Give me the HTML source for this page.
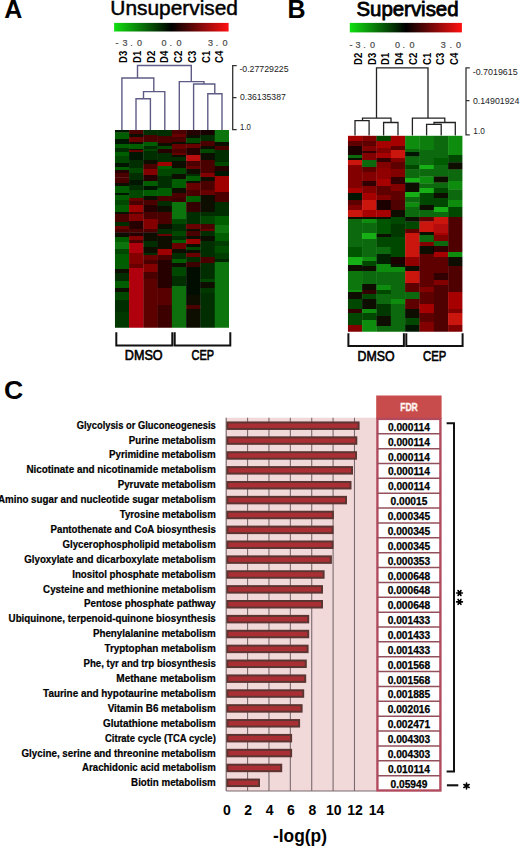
<!DOCTYPE html>
<html><head><meta charset="utf-8"><style>
html,body{margin:0;padding:0;background:#fff;}
svg{display:block;}
text{font-family:"Liberation Sans",sans-serif;fill:#000;}
.b{font-weight:bold;}
.m{font-family:"Liberation Mono",monospace;}
.mb{font-family:"Liberation Mono",monospace;font-weight:bold;}
</style></head><body>
<svg width="520" height="846" viewBox="0 0 520 846">
<rect width="520" height="846" fill="#ffffff"/>
<text x="4.3" y="18.4" class="b" font-size="25">A</text>
<text x="287.5" y="18.4" class="b" font-size="25">B</text>
<text x="4.0" y="399.3" class="b" font-size="26.6">C</text>
<text x="110.3" y="15.4" font-size="20" style="stroke:#000;stroke-width:0.45" textLength="127.7" lengthAdjust="spacingAndGlyphs">Unsupervised</text>
<text x="356.4" y="16" font-size="20" style="stroke:#000;stroke-width:0.8" textLength="102.2" lengthAdjust="spacingAndGlyphs">Supervised</text>
<defs><linearGradient id="cb" x1="0" x2="1" y1="0" y2="0"><stop offset="0" stop-color="#10e010"/><stop offset="0.5" stop-color="#000000"/><stop offset="1" stop-color="#ff1010"/></linearGradient></defs>
<rect x="114.1" y="22.9" width="114.5" height="8.6" fill="url(#cb)"/>
<rect x="349.8" y="22.9" width="112.1" height="9.5" fill="url(#cb)"/>
<text x="117.10" y="45.90" font-size="9" text-anchor="middle" style="fill:#4a4a4a;stroke:#4a4a4a;stroke-width:0.2">-</text>
<text x="125.00" y="45.90" font-size="9" text-anchor="middle" style="fill:#4a4a4a;stroke:#4a4a4a;stroke-width:0.2">3</text>
<text x="131.40" y="45.90" font-size="9" text-anchor="middle" style="fill:#4a4a4a;stroke:#4a4a4a;stroke-width:0.2">.</text>
<text x="139.40" y="45.90" font-size="9" text-anchor="middle" style="fill:#4a4a4a;stroke:#4a4a4a;stroke-width:0.2">0</text>
<text x="164.00" y="45.90" font-size="9" text-anchor="middle" style="fill:#4a4a4a;stroke:#4a4a4a;stroke-width:0.2">0</text>
<text x="170.75" y="45.90" font-size="9" text-anchor="middle" style="fill:#4a4a4a;stroke:#4a4a4a;stroke-width:0.2">.</text>
<text x="178.90" y="45.90" font-size="9" text-anchor="middle" style="fill:#4a4a4a;stroke:#4a4a4a;stroke-width:0.2">0</text>
<text x="210.60" y="45.90" font-size="9" text-anchor="middle" style="fill:#4a4a4a;stroke:#4a4a4a;stroke-width:0.2">3</text>
<text x="217.10" y="45.90" font-size="9" text-anchor="middle" style="fill:#4a4a4a;stroke:#4a4a4a;stroke-width:0.2">.</text>
<text x="225.10" y="45.90" font-size="9" text-anchor="middle" style="fill:#4a4a4a;stroke:#4a4a4a;stroke-width:0.2">0</text>
<text x="351.10" y="47.60" font-size="9" text-anchor="middle" style="fill:#4a4a4a;stroke:#4a4a4a;stroke-width:0.2">-</text>
<text x="358.00" y="47.60" font-size="9" text-anchor="middle" style="fill:#4a4a4a;stroke:#4a4a4a;stroke-width:0.2">3</text>
<text x="364.60" y="47.60" font-size="9" text-anchor="middle" style="fill:#4a4a4a;stroke:#4a4a4a;stroke-width:0.2">.</text>
<text x="372.60" y="47.60" font-size="9" text-anchor="middle" style="fill:#4a4a4a;stroke:#4a4a4a;stroke-width:0.2">0</text>
<text x="397.50" y="47.60" font-size="9" text-anchor="middle" style="fill:#4a4a4a;stroke:#4a4a4a;stroke-width:0.2">0</text>
<text x="403.80" y="47.60" font-size="9" text-anchor="middle" style="fill:#4a4a4a;stroke:#4a4a4a;stroke-width:0.2">.</text>
<text x="412.00" y="47.60" font-size="9" text-anchor="middle" style="fill:#4a4a4a;stroke:#4a4a4a;stroke-width:0.2">0</text>
<text x="443.30" y="47.60" font-size="9" text-anchor="middle" style="fill:#4a4a4a;stroke:#4a4a4a;stroke-width:0.2">3</text>
<text x="450.70" y="47.60" font-size="9" text-anchor="middle" style="fill:#4a4a4a;stroke:#4a4a4a;stroke-width:0.2">.</text>
<text x="458.50" y="47.60" font-size="9" text-anchor="middle" style="fill:#4a4a4a;stroke:#4a4a4a;stroke-width:0.2">0</text>
<text transform="translate(127.40 62.90) rotate(-90)" class="b" font-size="11" x="0" y="0" textLength="12.2" lengthAdjust="spacingAndGlyphs">D3</text>
<text transform="translate(141.09 62.90) rotate(-90)" class="b" font-size="11" x="0" y="0" textLength="12.2" lengthAdjust="spacingAndGlyphs">D1</text>
<text transform="translate(154.78 62.90) rotate(-90)" class="b" font-size="11" x="0" y="0" textLength="12.2" lengthAdjust="spacingAndGlyphs">D2</text>
<text transform="translate(168.47 62.90) rotate(-90)" class="b" font-size="11" x="0" y="0" textLength="12.2" lengthAdjust="spacingAndGlyphs">D4</text>
<text transform="translate(182.16 62.90) rotate(-90)" class="b" font-size="11" x="0" y="0" textLength="12.2" lengthAdjust="spacingAndGlyphs">C2</text>
<text transform="translate(195.85 62.90) rotate(-90)" class="b" font-size="11" x="0" y="0" textLength="12.2" lengthAdjust="spacingAndGlyphs">C3</text>
<text transform="translate(209.54 62.90) rotate(-90)" class="b" font-size="11" x="0" y="0" textLength="12.2" lengthAdjust="spacingAndGlyphs">C1</text>
<text transform="translate(223.23 62.90) rotate(-90)" class="b" font-size="11" x="0" y="0" textLength="12.2" lengthAdjust="spacingAndGlyphs">C4</text>
<text transform="translate(361.95 65.00) rotate(-90)" class="b" font-size="11" x="0" y="0" textLength="12.2" lengthAdjust="spacingAndGlyphs">D2</text>
<text transform="translate(375.67 65.00) rotate(-90)" class="b" font-size="11" x="0" y="0" textLength="12.2" lengthAdjust="spacingAndGlyphs">D3</text>
<text transform="translate(389.39 65.00) rotate(-90)" class="b" font-size="11" x="0" y="0" textLength="12.2" lengthAdjust="spacingAndGlyphs">D1</text>
<text transform="translate(403.11 65.00) rotate(-90)" class="b" font-size="11" x="0" y="0" textLength="12.2" lengthAdjust="spacingAndGlyphs">D4</text>
<text transform="translate(416.83 65.00) rotate(-90)" class="b" font-size="11" x="0" y="0" textLength="12.2" lengthAdjust="spacingAndGlyphs">C2</text>
<text transform="translate(430.55 65.00) rotate(-90)" class="b" font-size="11" x="0" y="0" textLength="12.2" lengthAdjust="spacingAndGlyphs">C1</text>
<text transform="translate(444.27 65.00) rotate(-90)" class="b" font-size="11" x="0" y="0" textLength="12.2" lengthAdjust="spacingAndGlyphs">C3</text>
<text transform="translate(457.99 65.00) rotate(-90)" class="b" font-size="11" x="0" y="0" textLength="12.2" lengthAdjust="spacingAndGlyphs">C4</text>
<path d="M137.5 78 V65.5 H191.3 V81.6 M121.9 130 V78 H153.8 V91.6 M143.5 98.8 V91.6 H164.8 V130 M136 130 V98.8 H150.4 V130 M179.3 130 V81.6 H204 V84 M193.6 130 V84 H214.8 V93.7 M207.8 130 V93.7 H222 V130" fill="none" stroke="#5e5c86" stroke-width="1.4"/>
<path d="M376.5 118.1 V67.9 H428 V118.1 M362.5 120.6 V118.1 H391 V122.5 M355 135.6 V120.6 H369.1 V135.6 M383.6 135.6 V122.5 H398 V135.6 M412.4 135.6 V118.1 H444.8 V122.5 M434 124.4 V122.5 H455.3 V135.6 M426.6 135.6 V124.4 H441.2 V135.6" fill="none" stroke="#222222" stroke-width="1.3"/>
<path d="M236.7 65.7 H232.7 V129.6 H236.7 M232.7 97.7 H236.5" fill="none" stroke="#333" stroke-width="1.3"/>
<path d="M469.8 67.8 H466 V134.8 H469.8 M466 100.6 H469.5" fill="none" stroke="#333" stroke-width="1.3"/>
<text x="239.4" y="72.2" font-size="8.6" style="fill:#222" textLength="49.2" lengthAdjust="spacingAndGlyphs">-0.27729225</text>
<text x="240.0" y="99.7" font-size="8.6" style="fill:#222" textLength="45.8" lengthAdjust="spacingAndGlyphs">0.36135387</text>
<text x="240.1" y="130.2" font-size="8.6" style="fill:#222" textLength="10.8" lengthAdjust="spacingAndGlyphs">1.0</text>
<text x="472.7" y="75.2" font-size="8.6" style="fill:#222" textLength="45" lengthAdjust="spacingAndGlyphs">-0.7019615</text>
<text x="472.9" y="103.6" font-size="8.6" style="fill:#222" textLength="46.5" lengthAdjust="spacingAndGlyphs">0.14901924</text>
<text x="473.3" y="134.4" font-size="8.6" style="fill:#222" textLength="11.5" lengthAdjust="spacingAndGlyphs">1.0</text>
<defs><filter id="hb" x="-2%" y="-2%" width="104%" height="104%"><feGaussianBlur stdDeviation="0.45"/></filter><clipPath id="ca"><rect x="114.8" y="130" width="114.2" height="197.7"/></clipPath><clipPath id="cbb"><rect x="347.8" y="135.6" width="114.7" height="196.1"/></clipPath></defs>
<g clip-path="url(#ca)"><g filter="url(#hb)"><rect x="114.80" y="130.00" width="14.58" height="2.80" fill="#001700"/>
<rect x="114.80" y="132.50" width="14.58" height="6.80" fill="#065d06"/>
<rect x="114.80" y="139.00" width="14.58" height="5.30" fill="#001700"/>
<rect x="114.80" y="144.00" width="14.58" height="4.30" fill="#065d06"/>
<rect x="114.80" y="148.00" width="14.58" height="4.30" fill="#002e00"/>
<rect x="114.80" y="152.00" width="14.58" height="4.30" fill="#065d06"/>
<rect x="114.80" y="156.00" width="14.58" height="4.30" fill="#024602"/>
<rect x="114.80" y="160.00" width="14.58" height="3.30" fill="#024602"/>
<rect x="114.80" y="163.00" width="14.58" height="4.30" fill="#001700"/>
<rect x="114.80" y="167.00" width="14.58" height="3.30" fill="#065d06"/>
<rect x="114.80" y="170.00" width="14.58" height="3.30" fill="#260003"/>
<rect x="114.80" y="173.00" width="14.58" height="4.80" fill="#4c0003"/>
<rect x="114.80" y="177.50" width="14.58" height="5.80" fill="#4c0003"/>
<rect x="114.80" y="183.00" width="14.58" height="3.30" fill="#080804"/>
<rect x="114.80" y="186.00" width="14.58" height="7.30" fill="#065d06"/>
<rect x="114.80" y="193.00" width="14.58" height="2.30" fill="#001700"/>
<rect x="114.80" y="195.00" width="14.58" height="5.30" fill="#065d06"/>
<rect x="114.80" y="200.00" width="14.58" height="5.30" fill="#024602"/>
<rect x="114.80" y="205.00" width="14.58" height="7.30" fill="#065d06"/>
<rect x="114.80" y="212.00" width="14.58" height="2.30" fill="#080804"/>
<rect x="114.80" y="214.00" width="14.58" height="8.30" fill="#4c0003"/>
<rect x="114.80" y="222.00" width="14.58" height="4.30" fill="#002e00"/>
<rect x="114.80" y="226.00" width="14.58" height="3.30" fill="#680003"/>
<rect x="114.80" y="229.00" width="14.58" height="3.80" fill="#4c0003"/>
<rect x="114.80" y="232.50" width="14.58" height="4.80" fill="#080804"/>
<rect x="114.80" y="237.00" width="14.58" height="5.30" fill="#065d06"/>
<rect x="114.80" y="242.00" width="14.58" height="7.30" fill="#0a750a"/>
<rect x="114.80" y="249.00" width="14.58" height="5.30" fill="#024602"/>
<rect x="114.80" y="254.00" width="14.58" height="5.30" fill="#065d06"/>
<rect x="114.80" y="259.00" width="14.58" height="10.30" fill="#065d06"/>
<rect x="114.80" y="269.00" width="14.58" height="4.30" fill="#080804"/>
<rect x="114.80" y="273.00" width="14.58" height="8.30" fill="#002e00"/>
<rect x="114.80" y="281.00" width="14.58" height="7.30" fill="#065d06"/>
<rect x="114.80" y="288.00" width="14.58" height="4.30" fill="#080804"/>
<rect x="114.80" y="292.00" width="14.58" height="8.30" fill="#024602"/>
<rect x="114.80" y="300.00" width="14.58" height="5.30" fill="#002e00"/>
<rect x="114.80" y="305.00" width="14.58" height="7.30" fill="#002e00"/>
<rect x="114.80" y="312.00" width="14.58" height="16.00" fill="#003800"/>
<rect x="129.07" y="130.00" width="14.58" height="4.30" fill="#4c0003"/>
<rect x="129.07" y="134.00" width="14.58" height="3.30" fill="#080804"/>
<rect x="129.07" y="137.00" width="14.58" height="5.30" fill="#680003"/>
<rect x="129.07" y="142.00" width="14.58" height="2.30" fill="#080804"/>
<rect x="129.07" y="144.00" width="14.58" height="5.30" fill="#065d06"/>
<rect x="129.07" y="149.00" width="14.58" height="1.30" fill="#080804"/>
<rect x="129.07" y="150.00" width="14.58" height="2.30" fill="#680003"/>
<rect x="129.07" y="152.00" width="14.58" height="8.30" fill="#001700"/>
<rect x="129.07" y="160.00" width="14.58" height="3.30" fill="#002e00"/>
<rect x="129.07" y="163.00" width="14.58" height="5.30" fill="#002e00"/>
<rect x="129.07" y="168.00" width="14.58" height="5.30" fill="#024602"/>
<rect x="129.07" y="173.00" width="14.58" height="7.30" fill="#002e00"/>
<rect x="129.07" y="180.00" width="14.58" height="5.30" fill="#001700"/>
<rect x="129.07" y="185.00" width="14.58" height="5.30" fill="#002e00"/>
<rect x="129.07" y="190.00" width="14.58" height="8.30" fill="#024602"/>
<rect x="129.07" y="198.00" width="14.58" height="3.30" fill="#680003"/>
<rect x="129.07" y="201.00" width="14.58" height="4.30" fill="#4c0003"/>
<rect x="129.07" y="205.00" width="14.58" height="7.30" fill="#9f0003"/>
<rect x="129.07" y="212.00" width="14.58" height="2.30" fill="#4c0003"/>
<rect x="129.07" y="214.00" width="14.58" height="7.30" fill="#840003"/>
<rect x="129.07" y="221.00" width="14.58" height="8.30" fill="#260003"/>
<rect x="129.07" y="229.00" width="14.58" height="3.80" fill="#4c0003"/>
<rect x="129.07" y="232.50" width="14.58" height="3.80" fill="#260003"/>
<rect x="129.07" y="236.00" width="14.58" height="4.30" fill="#840003"/>
<rect x="129.07" y="240.00" width="14.58" height="3.30" fill="#4c0003"/>
<rect x="129.07" y="243.00" width="14.58" height="10.30" fill="#b00607"/>
<rect x="129.07" y="253.00" width="14.58" height="4.30" fill="#840003"/>
<rect x="129.07" y="257.00" width="14.58" height="7.30" fill="#840003"/>
<rect x="129.07" y="264.00" width="14.58" height="4.30" fill="#680003"/>
<rect x="129.07" y="268.00" width="14.58" height="60.00" fill="#b00607"/>
<rect x="143.35" y="130.00" width="14.58" height="5.30" fill="#002e00"/>
<rect x="143.35" y="135.00" width="14.58" height="7.30" fill="#4c0003"/>
<rect x="143.35" y="142.00" width="14.58" height="4.30" fill="#065d06"/>
<rect x="143.35" y="146.00" width="14.58" height="3.30" fill="#002e00"/>
<rect x="143.35" y="149.00" width="14.58" height="2.30" fill="#024602"/>
<rect x="143.35" y="151.00" width="14.58" height="9.30" fill="#002e00"/>
<rect x="143.35" y="160.00" width="14.58" height="4.30" fill="#080804"/>
<rect x="143.35" y="164.00" width="14.58" height="5.30" fill="#4c0003"/>
<rect x="143.35" y="169.00" width="14.58" height="6.30" fill="#840003"/>
<rect x="143.35" y="175.00" width="14.58" height="6.30" fill="#260003"/>
<rect x="143.35" y="181.00" width="14.58" height="5.30" fill="#065d06"/>
<rect x="143.35" y="186.00" width="14.58" height="4.30" fill="#001700"/>
<rect x="143.35" y="190.00" width="14.58" height="6.30" fill="#065d06"/>
<rect x="143.35" y="196.00" width="14.58" height="4.30" fill="#080804"/>
<rect x="143.35" y="200.00" width="14.58" height="5.30" fill="#4c0003"/>
<rect x="143.35" y="205.00" width="14.58" height="7.30" fill="#260003"/>
<rect x="143.35" y="212.00" width="14.58" height="7.30" fill="#4c0003"/>
<rect x="143.35" y="219.00" width="14.58" height="10.30" fill="#840003"/>
<rect x="143.35" y="229.00" width="14.58" height="3.80" fill="#4c0003"/>
<rect x="143.35" y="232.50" width="14.58" height="8.80" fill="#080804"/>
<rect x="143.35" y="241.00" width="14.58" height="6.30" fill="#002e00"/>
<rect x="143.35" y="247.00" width="14.58" height="6.30" fill="#080804"/>
<rect x="143.35" y="253.00" width="14.58" height="2.30" fill="#002e00"/>
<rect x="143.35" y="255.00" width="14.58" height="5.30" fill="#680003"/>
<rect x="143.35" y="260.00" width="14.58" height="4.30" fill="#4c0003"/>
<rect x="143.35" y="264.00" width="14.58" height="8.30" fill="#840003"/>
<rect x="143.35" y="272.00" width="14.58" height="7.30" fill="#4c0003"/>
<rect x="143.35" y="279.00" width="14.58" height="49.00" fill="#5d0003"/>
<rect x="157.62" y="130.00" width="14.58" height="6.30" fill="#002e00"/>
<rect x="157.62" y="136.00" width="14.58" height="7.30" fill="#4c0003"/>
<rect x="157.62" y="143.00" width="14.58" height="3.30" fill="#080804"/>
<rect x="157.62" y="146.00" width="14.58" height="3.30" fill="#024602"/>
<rect x="157.62" y="149.00" width="14.58" height="4.30" fill="#260003"/>
<rect x="157.62" y="153.00" width="14.58" height="9.30" fill="#002e00"/>
<rect x="157.62" y="162.00" width="14.58" height="4.30" fill="#9f0003"/>
<rect x="157.62" y="166.00" width="14.58" height="3.30" fill="#065d06"/>
<rect x="157.62" y="169.00" width="14.58" height="7.30" fill="#024602"/>
<rect x="157.62" y="176.00" width="14.58" height="7.30" fill="#002e00"/>
<rect x="157.62" y="183.00" width="14.58" height="5.30" fill="#002e00"/>
<rect x="157.62" y="188.00" width="14.58" height="8.30" fill="#065d06"/>
<rect x="157.62" y="196.00" width="14.58" height="5.30" fill="#4c0003"/>
<rect x="157.62" y="201.00" width="14.58" height="5.30" fill="#002e00"/>
<rect x="157.62" y="206.00" width="14.58" height="6.30" fill="#080804"/>
<rect x="157.62" y="212.00" width="14.58" height="7.30" fill="#4c0003"/>
<rect x="157.62" y="219.00" width="14.58" height="5.30" fill="#4c0003"/>
<rect x="157.62" y="224.00" width="14.58" height="5.30" fill="#080804"/>
<rect x="157.62" y="229.00" width="14.58" height="5.30" fill="#002e00"/>
<rect x="157.62" y="234.00" width="14.58" height="2.30" fill="#680003"/>
<rect x="157.62" y="236.00" width="14.58" height="13.30" fill="#080804"/>
<rect x="157.62" y="249.00" width="14.58" height="6.30" fill="#9f0003"/>
<rect x="157.62" y="255.00" width="14.58" height="5.30" fill="#4c0003"/>
<rect x="157.62" y="260.00" width="14.58" height="28.30" fill="#260003"/>
<rect x="157.62" y="288.00" width="14.58" height="17.30" fill="#580003"/>
<rect x="157.62" y="305.00" width="14.58" height="23.00" fill="#3c0003"/>
<rect x="171.90" y="130.00" width="14.58" height="4.30" fill="#4c0003"/>
<rect x="171.90" y="134.00" width="14.58" height="3.30" fill="#680003"/>
<rect x="171.90" y="137.00" width="14.58" height="5.30" fill="#4c0003"/>
<rect x="171.90" y="142.00" width="14.58" height="2.30" fill="#080804"/>
<rect x="171.90" y="144.00" width="14.58" height="5.30" fill="#680003"/>
<rect x="171.90" y="149.00" width="14.58" height="4.30" fill="#4c0003"/>
<rect x="171.90" y="153.00" width="14.58" height="2.30" fill="#680003"/>
<rect x="171.90" y="155.00" width="14.58" height="2.30" fill="#080804"/>
<rect x="171.90" y="157.00" width="14.58" height="4.30" fill="#002e00"/>
<rect x="171.90" y="161.00" width="14.58" height="7.30" fill="#080804"/>
<rect x="171.90" y="168.00" width="14.58" height="6.30" fill="#024602"/>
<rect x="171.90" y="174.00" width="14.58" height="5.30" fill="#080804"/>
<rect x="171.90" y="179.00" width="14.58" height="9.30" fill="#065d06"/>
<rect x="171.90" y="188.00" width="14.58" height="5.30" fill="#080804"/>
<rect x="171.90" y="193.00" width="14.58" height="5.30" fill="#4c0003"/>
<rect x="171.90" y="198.00" width="14.58" height="4.30" fill="#3c0003"/>
<rect x="171.90" y="202.00" width="14.58" height="17.30" fill="#0a750a"/>
<rect x="171.90" y="219.00" width="14.58" height="5.30" fill="#024602"/>
<rect x="171.90" y="224.00" width="14.58" height="7.30" fill="#002e00"/>
<rect x="171.90" y="231.00" width="14.58" height="5.30" fill="#024602"/>
<rect x="171.90" y="236.00" width="14.58" height="4.30" fill="#002e00"/>
<rect x="171.90" y="240.00" width="14.58" height="3.30" fill="#065d06"/>
<rect x="171.90" y="243.00" width="14.58" height="6.30" fill="#680003"/>
<rect x="171.90" y="249.00" width="14.58" height="4.30" fill="#080804"/>
<rect x="171.90" y="253.00" width="14.58" height="6.30" fill="#002e00"/>
<rect x="171.90" y="259.00" width="14.58" height="4.30" fill="#065d06"/>
<rect x="171.90" y="263.00" width="14.58" height="4.30" fill="#080804"/>
<rect x="171.90" y="267.00" width="14.58" height="9.30" fill="#024602"/>
<rect x="171.90" y="276.00" width="14.58" height="10.30" fill="#002e00"/>
<rect x="171.90" y="286.00" width="14.58" height="42.00" fill="#097009"/>
<rect x="186.18" y="130.00" width="14.58" height="5.30" fill="#260003"/>
<rect x="186.18" y="135.00" width="14.58" height="3.30" fill="#080804"/>
<rect x="186.18" y="138.00" width="14.58" height="5.30" fill="#024602"/>
<rect x="186.18" y="143.00" width="14.58" height="1.30" fill="#080804"/>
<rect x="186.18" y="144.00" width="14.58" height="4.30" fill="#680003"/>
<rect x="186.18" y="148.00" width="14.58" height="7.30" fill="#260003"/>
<rect x="186.18" y="155.00" width="14.58" height="6.30" fill="#bb0b0b"/>
<rect x="186.18" y="161.00" width="14.58" height="5.30" fill="#4c0003"/>
<rect x="186.18" y="166.00" width="14.58" height="3.30" fill="#680003"/>
<rect x="186.18" y="169.00" width="14.58" height="5.30" fill="#080804"/>
<rect x="186.18" y="174.00" width="14.58" height="2.30" fill="#002e00"/>
<rect x="186.18" y="176.00" width="14.58" height="5.30" fill="#065d06"/>
<rect x="186.18" y="181.00" width="14.58" height="2.30" fill="#080804"/>
<rect x="186.18" y="183.00" width="14.58" height="7.30" fill="#680003"/>
<rect x="186.18" y="190.00" width="14.58" height="6.30" fill="#4c0003"/>
<rect x="186.18" y="196.00" width="14.58" height="6.30" fill="#065d06"/>
<rect x="186.18" y="202.00" width="14.58" height="10.30" fill="#350003"/>
<rect x="186.18" y="212.00" width="14.58" height="12.30" fill="#002e00"/>
<rect x="186.18" y="224.00" width="14.58" height="5.30" fill="#680003"/>
<rect x="186.18" y="229.00" width="14.58" height="2.30" fill="#080804"/>
<rect x="186.18" y="231.00" width="14.58" height="5.30" fill="#4c0003"/>
<rect x="186.18" y="236.00" width="14.58" height="3.30" fill="#080804"/>
<rect x="186.18" y="239.00" width="14.58" height="5.30" fill="#9f0003"/>
<rect x="186.18" y="244.00" width="14.58" height="3.30" fill="#080804"/>
<rect x="186.18" y="247.00" width="14.58" height="3.30" fill="#024602"/>
<rect x="186.18" y="250.00" width="14.58" height="3.30" fill="#080804"/>
<rect x="186.18" y="253.00" width="14.58" height="4.30" fill="#680003"/>
<rect x="186.18" y="257.00" width="14.58" height="5.30" fill="#002e00"/>
<rect x="186.18" y="262.00" width="14.58" height="5.30" fill="#3c0003"/>
<rect x="186.18" y="267.00" width="14.58" height="28.30" fill="#000900"/>
<rect x="186.18" y="295.00" width="14.58" height="10.30" fill="#080804"/>
<rect x="186.18" y="305.00" width="14.58" height="4.30" fill="#4c0003"/>
<rect x="186.18" y="309.00" width="14.58" height="19.00" fill="#080804"/>
<rect x="200.45" y="130.00" width="14.58" height="5.30" fill="#160003"/>
<rect x="200.45" y="135.00" width="14.58" height="6.30" fill="#002e00"/>
<rect x="200.45" y="141.00" width="14.58" height="5.30" fill="#4c0003"/>
<rect x="200.45" y="146.00" width="14.58" height="3.30" fill="#080804"/>
<rect x="200.45" y="149.00" width="14.58" height="4.30" fill="#024602"/>
<rect x="200.45" y="153.00" width="14.58" height="7.30" fill="#080804"/>
<rect x="200.45" y="160.00" width="14.58" height="13.30" fill="#4c0003"/>
<rect x="200.45" y="173.00" width="14.58" height="4.30" fill="#840003"/>
<rect x="200.45" y="177.00" width="14.58" height="4.30" fill="#080804"/>
<rect x="200.45" y="181.00" width="14.58" height="9.30" fill="#4c0003"/>
<rect x="200.45" y="190.00" width="14.58" height="5.30" fill="#680003"/>
<rect x="200.45" y="195.00" width="14.58" height="17.30" fill="#080804"/>
<rect x="200.45" y="212.00" width="14.58" height="4.30" fill="#002e00"/>
<rect x="200.45" y="216.00" width="14.58" height="8.30" fill="#024602"/>
<rect x="200.45" y="224.00" width="14.58" height="5.30" fill="#4c0003"/>
<rect x="200.45" y="229.00" width="14.58" height="2.30" fill="#680003"/>
<rect x="200.45" y="231.00" width="14.58" height="5.30" fill="#002e00"/>
<rect x="200.45" y="236.00" width="14.58" height="5.30" fill="#080804"/>
<rect x="200.45" y="241.00" width="14.58" height="16.30" fill="#002e00"/>
<rect x="200.45" y="257.00" width="14.58" height="6.30" fill="#4c0003"/>
<rect x="200.45" y="263.00" width="14.58" height="16.30" fill="#002e00"/>
<rect x="200.45" y="279.00" width="14.58" height="3.30" fill="#024602"/>
<rect x="200.45" y="282.00" width="14.58" height="6.30" fill="#080804"/>
<rect x="200.45" y="288.00" width="14.58" height="5.30" fill="#003800"/>
<rect x="200.45" y="293.00" width="14.58" height="35.00" fill="#002e00"/>
<rect x="214.72" y="130.00" width="14.58" height="12.30" fill="#0a750a"/>
<rect x="214.72" y="142.00" width="14.58" height="4.30" fill="#080804"/>
<rect x="214.72" y="146.00" width="14.58" height="4.30" fill="#4c0003"/>
<rect x="214.72" y="150.00" width="14.58" height="12.30" fill="#002e00"/>
<rect x="214.72" y="162.00" width="14.58" height="4.30" fill="#024602"/>
<rect x="214.72" y="166.00" width="14.58" height="5.30" fill="#260003"/>
<rect x="214.72" y="171.00" width="14.58" height="5.30" fill="#001700"/>
<rect x="214.72" y="176.00" width="14.58" height="16.30" fill="#9f0003"/>
<rect x="214.72" y="192.00" width="14.58" height="10.30" fill="#4c0003"/>
<rect x="214.72" y="202.00" width="14.58" height="14.30" fill="#002e00"/>
<rect x="214.72" y="216.00" width="14.58" height="9.30" fill="#065d06"/>
<rect x="214.72" y="225.00" width="14.58" height="8.30" fill="#0a750a"/>
<rect x="214.72" y="233.00" width="14.58" height="8.30" fill="#065d06"/>
<rect x="214.72" y="241.00" width="14.58" height="5.30" fill="#013c01"/>
<rect x="214.72" y="246.00" width="14.58" height="7.30" fill="#044f04"/>
<rect x="214.72" y="253.00" width="14.58" height="6.30" fill="#013c01"/>
<rect x="214.72" y="259.00" width="14.58" height="3.30" fill="#002500"/>
<rect x="214.72" y="262.00" width="14.58" height="66.00" fill="#0a750a"/></g></g>
<g clip-path="url(#cbb)"><g filter="url(#hb)"><rect x="347.80" y="135.60" width="14.64" height="5.70" fill="#a70204"/>
<rect x="347.80" y="141.00" width="14.64" height="5.30" fill="#5e0003"/>
<rect x="347.80" y="146.00" width="14.64" height="9.30" fill="#1e0003"/>
<rect x="347.80" y="155.00" width="14.64" height="3.30" fill="#086908"/>
<rect x="347.80" y="158.00" width="14.64" height="2.30" fill="#080804"/>
<rect x="347.80" y="160.00" width="14.64" height="5.30" fill="#cb1211"/>
<rect x="347.80" y="165.00" width="14.64" height="4.30" fill="#820003"/>
<rect x="347.80" y="169.00" width="14.64" height="19.30" fill="#820003"/>
<rect x="347.80" y="188.00" width="14.64" height="5.30" fill="#a70204"/>
<rect x="347.80" y="193.00" width="14.64" height="7.30" fill="#001500"/>
<rect x="347.80" y="200.00" width="14.64" height="5.30" fill="#5e0003"/>
<rect x="347.80" y="205.00" width="14.64" height="5.30" fill="#820003"/>
<rect x="347.80" y="210.00" width="14.64" height="7.30" fill="#cb1211"/>
<rect x="347.80" y="217.00" width="14.64" height="2.30" fill="#080804"/>
<rect x="347.80" y="219.00" width="14.64" height="19.30" fill="#086908"/>
<rect x="347.80" y="238.00" width="14.64" height="9.30" fill="#086908"/>
<rect x="347.80" y="247.00" width="14.64" height="10.30" fill="#045404"/>
<rect x="347.80" y="257.00" width="14.64" height="8.30" fill="#13af13"/>
<rect x="347.80" y="265.00" width="14.64" height="6.30" fill="#080804"/>
<rect x="347.80" y="271.00" width="14.64" height="19.30" fill="#0a770a"/>
<rect x="347.80" y="290.00" width="14.64" height="2.30" fill="#0d8c0d"/>
<rect x="347.80" y="292.00" width="14.64" height="7.30" fill="#080804"/>
<rect x="347.80" y="299.00" width="14.64" height="10.30" fill="#024602"/>
<rect x="347.80" y="309.00" width="14.64" height="4.30" fill="#320003"/>
<rect x="347.80" y="313.00" width="14.64" height="12.30" fill="#024602"/>
<rect x="347.80" y="325.00" width="14.64" height="7.00" fill="#820003"/>
<rect x="362.14" y="135.60" width="14.64" height="5.70" fill="#820003"/>
<rect x="362.14" y="141.00" width="14.64" height="5.30" fill="#5e0003"/>
<rect x="362.14" y="146.00" width="14.64" height="5.30" fill="#820003"/>
<rect x="362.14" y="151.00" width="14.64" height="2.30" fill="#320003"/>
<rect x="362.14" y="153.00" width="14.64" height="7.30" fill="#820003"/>
<rect x="362.14" y="160.00" width="14.64" height="7.30" fill="#086908"/>
<rect x="362.14" y="167.00" width="14.64" height="5.30" fill="#5e0003"/>
<rect x="362.14" y="172.00" width="14.64" height="9.30" fill="#820003"/>
<rect x="362.14" y="181.00" width="14.64" height="5.30" fill="#320003"/>
<rect x="362.14" y="186.00" width="14.64" height="7.30" fill="#820003"/>
<rect x="362.14" y="193.00" width="14.64" height="7.30" fill="#a70204"/>
<rect x="362.14" y="200.00" width="14.64" height="10.30" fill="#cb1211"/>
<rect x="362.14" y="210.00" width="14.64" height="7.30" fill="#a70204"/>
<rect x="362.14" y="217.00" width="14.64" height="2.30" fill="#080804"/>
<rect x="362.14" y="219.00" width="14.64" height="4.30" fill="#0d8c0d"/>
<rect x="362.14" y="223.00" width="14.64" height="10.30" fill="#086908"/>
<rect x="362.14" y="233.00" width="14.64" height="6.30" fill="#13af13"/>
<rect x="362.14" y="239.00" width="14.64" height="18.30" fill="#086908"/>
<rect x="362.14" y="257.00" width="14.64" height="4.30" fill="#0d8c0d"/>
<rect x="362.14" y="261.00" width="14.64" height="5.30" fill="#024602"/>
<rect x="362.14" y="266.00" width="14.64" height="5.30" fill="#080804"/>
<rect x="362.14" y="271.00" width="14.64" height="13.30" fill="#086908"/>
<rect x="362.14" y="284.00" width="14.64" height="6.30" fill="#080804"/>
<rect x="362.14" y="290.00" width="14.64" height="4.30" fill="#320003"/>
<rect x="362.14" y="294.00" width="14.64" height="5.30" fill="#024602"/>
<rect x="362.14" y="299.00" width="14.64" height="10.30" fill="#080804"/>
<rect x="362.14" y="309.00" width="14.64" height="4.30" fill="#0d8c0d"/>
<rect x="362.14" y="313.00" width="14.64" height="7.30" fill="#024602"/>
<rect x="362.14" y="320.00" width="14.64" height="12.00" fill="#0d8c0d"/>
<rect x="376.48" y="135.60" width="14.64" height="5.70" fill="#024602"/>
<rect x="376.48" y="141.00" width="14.64" height="7.30" fill="#a70204"/>
<rect x="376.48" y="148.00" width="14.64" height="5.30" fill="#820003"/>
<rect x="376.48" y="153.00" width="14.64" height="5.30" fill="#a70204"/>
<rect x="376.48" y="158.00" width="14.64" height="4.30" fill="#320003"/>
<rect x="376.48" y="162.00" width="14.64" height="6.30" fill="#820003"/>
<rect x="376.48" y="168.00" width="14.64" height="11.30" fill="#910003"/>
<rect x="376.48" y="179.00" width="14.64" height="7.30" fill="#a70204"/>
<rect x="376.48" y="186.00" width="14.64" height="9.30" fill="#5e0003"/>
<rect x="376.48" y="195.00" width="14.64" height="5.30" fill="#820003"/>
<rect x="376.48" y="200.00" width="14.64" height="10.30" fill="#1e0003"/>
<rect x="376.48" y="210.00" width="14.64" height="7.30" fill="#a70204"/>
<rect x="376.48" y="217.00" width="14.64" height="2.30" fill="#080804"/>
<rect x="376.48" y="219.00" width="14.64" height="15.30" fill="#045404"/>
<rect x="376.48" y="234.00" width="14.64" height="3.30" fill="#080804"/>
<rect x="376.48" y="237.00" width="14.64" height="10.30" fill="#024602"/>
<rect x="376.48" y="247.00" width="14.64" height="7.30" fill="#086908"/>
<rect x="376.48" y="254.00" width="14.64" height="10.30" fill="#002300"/>
<rect x="376.48" y="264.00" width="14.64" height="8.30" fill="#0d8c0d"/>
<rect x="376.48" y="272.00" width="14.64" height="13.30" fill="#086908"/>
<rect x="376.48" y="285.00" width="14.64" height="5.30" fill="#0d8c0d"/>
<rect x="376.48" y="290.00" width="14.64" height="4.30" fill="#024602"/>
<rect x="376.48" y="294.00" width="14.64" height="10.30" fill="#086908"/>
<rect x="376.48" y="304.00" width="14.64" height="12.30" fill="#003800"/>
<rect x="376.48" y="316.00" width="14.64" height="10.30" fill="#080804"/>
<rect x="376.48" y="326.00" width="14.64" height="6.00" fill="#086908"/>
<rect x="390.81" y="135.60" width="14.64" height="10.70" fill="#a70204"/>
<rect x="390.81" y="146.00" width="14.64" height="4.30" fill="#5e0003"/>
<rect x="390.81" y="150.00" width="14.64" height="8.30" fill="#cb1211"/>
<rect x="390.81" y="158.00" width="14.64" height="4.30" fill="#820003"/>
<rect x="390.81" y="162.00" width="14.64" height="7.30" fill="#5e0003"/>
<rect x="390.81" y="169.00" width="14.64" height="8.30" fill="#820003"/>
<rect x="390.81" y="177.00" width="14.64" height="7.30" fill="#320003"/>
<rect x="390.81" y="184.00" width="14.64" height="7.30" fill="#820003"/>
<rect x="390.81" y="191.00" width="14.64" height="9.30" fill="#5e0003"/>
<rect x="390.81" y="200.00" width="14.64" height="10.30" fill="#500003"/>
<rect x="390.81" y="210.00" width="14.64" height="7.30" fill="#080804"/>
<rect x="390.81" y="217.00" width="14.64" height="7.30" fill="#024602"/>
<rect x="390.81" y="224.00" width="14.64" height="13.30" fill="#003800"/>
<rect x="390.81" y="237.00" width="14.64" height="20.30" fill="#024602"/>
<rect x="390.81" y="257.00" width="14.64" height="7.30" fill="#1e0003"/>
<rect x="390.81" y="264.00" width="14.64" height="3.30" fill="#080804"/>
<rect x="390.81" y="267.00" width="14.64" height="5.30" fill="#0d8c0d"/>
<rect x="390.81" y="272.00" width="14.64" height="27.30" fill="#086908"/>
<rect x="390.81" y="299.00" width="14.64" height="5.30" fill="#0d8c0d"/>
<rect x="390.81" y="304.00" width="14.64" height="28.00" fill="#086908"/>
<rect x="405.15" y="135.60" width="14.64" height="13.70" fill="#0d8c0d"/>
<rect x="405.15" y="149.00" width="14.64" height="3.30" fill="#086908"/>
<rect x="405.15" y="152.00" width="14.64" height="4.80" fill="#001500"/>
<rect x="405.15" y="156.50" width="14.64" height="8.80" fill="#086908"/>
<rect x="405.15" y="165.00" width="14.64" height="4.80" fill="#024602"/>
<rect x="405.15" y="169.50" width="14.64" height="8.80" fill="#086908"/>
<rect x="405.15" y="178.00" width="14.64" height="4.80" fill="#13af13"/>
<rect x="405.15" y="182.50" width="14.64" height="9.80" fill="#080804"/>
<rect x="405.15" y="192.00" width="14.64" height="5.30" fill="#13af13"/>
<rect x="405.15" y="197.00" width="14.64" height="5.80" fill="#086908"/>
<rect x="405.15" y="202.50" width="14.64" height="4.80" fill="#0d8c0d"/>
<rect x="405.15" y="207.00" width="14.64" height="10.30" fill="#086908"/>
<rect x="405.15" y="217.00" width="14.64" height="4.80" fill="#080804"/>
<rect x="405.15" y="221.50" width="14.64" height="7.80" fill="#024602"/>
<rect x="405.15" y="229.00" width="14.64" height="4.30" fill="#5e0003"/>
<rect x="405.15" y="233.00" width="14.64" height="24.30" fill="#cb1211"/>
<rect x="405.15" y="257.00" width="14.64" height="9.30" fill="#910003"/>
<rect x="405.15" y="266.00" width="14.64" height="5.30" fill="#080804"/>
<rect x="405.15" y="271.00" width="14.64" height="12.30" fill="#cb1211"/>
<rect x="405.15" y="283.00" width="14.64" height="9.30" fill="#5e0003"/>
<rect x="405.15" y="292.00" width="14.64" height="7.30" fill="#086908"/>
<rect x="405.15" y="299.00" width="14.64" height="10.30" fill="#5e0003"/>
<rect x="405.15" y="309.00" width="14.64" height="9.30" fill="#080804"/>
<rect x="405.15" y="318.00" width="14.64" height="7.30" fill="#024602"/>
<rect x="405.15" y="325.00" width="14.64" height="7.00" fill="#001500"/>
<rect x="419.49" y="135.60" width="14.64" height="14.70" fill="#0b7e0b"/>
<rect x="419.49" y="150.00" width="14.64" height="5.30" fill="#086908"/>
<rect x="419.49" y="155.00" width="14.64" height="10.30" fill="#086908"/>
<rect x="419.49" y="165.00" width="14.64" height="4.30" fill="#13af13"/>
<rect x="419.49" y="169.00" width="14.64" height="7.80" fill="#086908"/>
<rect x="419.49" y="176.50" width="14.64" height="7.30" fill="#0d8c0d"/>
<rect x="419.49" y="183.50" width="14.64" height="4.80" fill="#086908"/>
<rect x="419.49" y="188.00" width="14.64" height="5.30" fill="#13af13"/>
<rect x="419.49" y="193.00" width="14.64" height="12.30" fill="#024602"/>
<rect x="419.49" y="205.00" width="14.64" height="5.30" fill="#080804"/>
<rect x="419.49" y="210.00" width="14.64" height="7.30" fill="#086908"/>
<rect x="419.49" y="217.00" width="14.64" height="4.80" fill="#5e0003"/>
<rect x="419.49" y="221.50" width="14.64" height="10.80" fill="#cb1211"/>
<rect x="419.49" y="232.00" width="14.64" height="3.30" fill="#080804"/>
<rect x="419.49" y="235.00" width="14.64" height="7.30" fill="#086908"/>
<rect x="419.49" y="242.00" width="14.64" height="4.30" fill="#820003"/>
<rect x="419.49" y="246.00" width="14.64" height="8.30" fill="#080804"/>
<rect x="419.49" y="254.00" width="14.64" height="33.30" fill="#5e0003"/>
<rect x="419.49" y="287.00" width="14.64" height="5.30" fill="#820003"/>
<rect x="419.49" y="292.00" width="14.64" height="12.30" fill="#5e0003"/>
<rect x="419.49" y="304.00" width="14.64" height="9.30" fill="#a70204"/>
<rect x="419.49" y="313.00" width="14.64" height="9.30" fill="#5e0003"/>
<rect x="419.49" y="322.00" width="14.64" height="10.00" fill="#820003"/>
<rect x="433.83" y="135.60" width="14.64" height="13.70" fill="#086908"/>
<rect x="433.83" y="149.00" width="14.64" height="9.30" fill="#086908"/>
<rect x="433.83" y="158.00" width="14.64" height="7.30" fill="#065b06"/>
<rect x="433.83" y="165.00" width="14.64" height="11.80" fill="#086908"/>
<rect x="433.83" y="176.50" width="14.64" height="6.30" fill="#080804"/>
<rect x="433.83" y="182.50" width="14.64" height="5.80" fill="#086908"/>
<rect x="433.83" y="188.00" width="14.64" height="5.30" fill="#024602"/>
<rect x="433.83" y="193.00" width="14.64" height="5.30" fill="#080804"/>
<rect x="433.83" y="198.00" width="14.64" height="9.30" fill="#024602"/>
<rect x="433.83" y="207.00" width="14.64" height="5.30" fill="#13af13"/>
<rect x="433.83" y="212.00" width="14.64" height="5.30" fill="#086908"/>
<rect x="433.83" y="217.00" width="14.64" height="7.30" fill="#cb1211"/>
<rect x="433.83" y="224.00" width="14.64" height="9.30" fill="#b50809"/>
<rect x="433.83" y="233.00" width="14.64" height="2.30" fill="#a70204"/>
<rect x="433.83" y="235.00" width="14.64" height="6.30" fill="#820003"/>
<rect x="433.83" y="241.00" width="14.64" height="5.30" fill="#086908"/>
<rect x="433.83" y="246.00" width="14.64" height="6.30" fill="#320003"/>
<rect x="433.83" y="252.00" width="14.64" height="5.30" fill="#a70204"/>
<rect x="433.83" y="257.00" width="14.64" height="16.30" fill="#5e0003"/>
<rect x="433.83" y="273.00" width="14.64" height="7.30" fill="#320003"/>
<rect x="433.83" y="280.00" width="14.64" height="5.30" fill="#820003"/>
<rect x="433.83" y="285.00" width="14.64" height="47.00" fill="#500003"/>
<rect x="448.16" y="135.60" width="14.64" height="19.70" fill="#0d8c0d"/>
<rect x="448.16" y="155.00" width="14.64" height="7.80" fill="#024602"/>
<rect x="448.16" y="162.50" width="14.64" height="7.30" fill="#080804"/>
<rect x="448.16" y="169.50" width="14.64" height="11.80" fill="#086908"/>
<rect x="448.16" y="181.00" width="14.64" height="8.80" fill="#0d8c0d"/>
<rect x="448.16" y="189.50" width="14.64" height="10.80" fill="#086908"/>
<rect x="448.16" y="200.00" width="14.64" height="7.30" fill="#0d8c0d"/>
<rect x="448.16" y="207.00" width="14.64" height="10.30" fill="#024602"/>
<rect x="448.16" y="217.00" width="14.64" height="17.30" fill="#500003"/>
<rect x="448.16" y="234.00" width="14.64" height="18.30" fill="#500003"/>
<rect x="448.16" y="252.00" width="14.64" height="5.30" fill="#0d8c0d"/>
<rect x="448.16" y="257.00" width="14.64" height="9.30" fill="#080804"/>
<rect x="448.16" y="266.00" width="14.64" height="26.30" fill="#500003"/>
<rect x="448.16" y="292.00" width="14.64" height="17.30" fill="#a70204"/>
<rect x="448.16" y="309.00" width="14.64" height="4.30" fill="#820003"/>
<rect x="448.16" y="313.00" width="14.64" height="12.30" fill="#cb1211"/>
<rect x="448.16" y="325.00" width="14.64" height="7.00" fill="#820003"/></g></g>
<path d="M116.3 332.3 V345.5 H172.3 V332.3 M174.7 332.3 V345.5 H230.3 V332.3" fill="none" stroke="#111" stroke-width="2"/>
<path d="M348.4 333.3 V346.1 H403.9 V333.3 M406.3 333.3 V346.1 H462.6 V333.3" fill="none" stroke="#111" stroke-width="2"/>
<text x="124.8" y="360.1" font-size="13.8" style="stroke:#000;stroke-width:0.6" textLength="37.8" lengthAdjust="spacingAndGlyphs">DMSO</text>
<text x="191.6" y="360.1" font-size="13.8" style="stroke:#000;stroke-width:0.6" textLength="22.5" lengthAdjust="spacingAndGlyphs">CEP</text>
<text x="357.5" y="361" font-size="13.8" style="stroke:#000;stroke-width:0.6" textLength="37" lengthAdjust="spacingAndGlyphs">DMSO</text>
<text x="423" y="361" font-size="13.8" style="stroke:#000;stroke-width:0.6" textLength="23.2" lengthAdjust="spacingAndGlyphs">CEP</text>
<rect x="226.2" y="417.7" width="150.3" height="373.3" fill="#f1d9da"/>
<line x1="247.58" y1="417.7" x2="247.58" y2="791.0" stroke="#7a6a6e" stroke-width="1.1"/>
<line x1="268.96" y1="417.7" x2="268.96" y2="791.0" stroke="#7a6a6e" stroke-width="1.1"/>
<line x1="290.34" y1="417.7" x2="290.34" y2="791.0" stroke="#7a6a6e" stroke-width="1.1"/>
<line x1="311.72" y1="417.7" x2="311.72" y2="791.0" stroke="#7a6a6e" stroke-width="1.1"/>
<line x1="333.10" y1="417.7" x2="333.10" y2="791.0" stroke="#7a6a6e" stroke-width="1.1"/>
<line x1="354.48" y1="417.7" x2="354.48" y2="791.0" stroke="#7a6a6e" stroke-width="1.1"/>
<line x1="226.20" y1="417.7" x2="226.20" y2="791.0" stroke="#7a6a6e" stroke-width="1.2"/>
<line x1="226.20" y1="791.0" x2="376.50" y2="791.0" stroke="#7a6a6e" stroke-width="1.2"/>
<rect x="227.40" y="422.45" width="131.20" height="6.5" fill="#a92f34" stroke="#5c3532" stroke-width="2"/>
<text x="76.7" y="428.60" class="b" font-size="10.2" style="stroke:#000;stroke-width:0.2" textLength="139.1" lengthAdjust="spacingAndGlyphs">Glycolysis or Gluconeogenesis</text>
<rect x="227.40" y="437.33" width="128.90" height="6.5" fill="#a92f34" stroke="#5c3532" stroke-width="2"/>
<text x="128.7" y="443.50" class="b" font-size="10.2" style="stroke:#000;stroke-width:0.2" textLength="87.1" lengthAdjust="spacingAndGlyphs">Purine metabolism</text>
<rect x="227.40" y="452.21" width="128.60" height="6.5" fill="#a92f34" stroke="#5c3532" stroke-width="2"/>
<text x="109.0" y="458.41" class="b" font-size="10.2" style="stroke:#000;stroke-width:0.2" textLength="106.8" lengthAdjust="spacingAndGlyphs">Pyrimidine metabolism</text>
<rect x="227.40" y="467.09" width="124.60" height="6.5" fill="#a92f34" stroke="#5c3532" stroke-width="2"/>
<text x="26.4" y="473.31" class="b" font-size="10.2" style="stroke:#000;stroke-width:0.2" textLength="189.4" lengthAdjust="spacingAndGlyphs">Nicotinate and nicotinamide metabolism</text>
<rect x="227.40" y="481.97" width="123.10" height="6.5" fill="#a92f34" stroke="#5c3532" stroke-width="2"/>
<text x="117.7" y="488.22" class="b" font-size="10.2" style="stroke:#000;stroke-width:0.2" textLength="98.1" lengthAdjust="spacingAndGlyphs">Pyruvate metabolism</text>
<rect x="227.40" y="496.85" width="118.60" height="6.5" fill="#a92f34" stroke="#5c3532" stroke-width="2"/>
<text x="-2.0" y="503.12" class="b" font-size="10.2" style="stroke:#000;stroke-width:0.2" textLength="217.8" lengthAdjust="spacingAndGlyphs">Amino sugar and nucleotide sugar metabolism</text>
<rect x="227.40" y="511.73" width="105.50" height="6.5" fill="#a92f34" stroke="#5c3532" stroke-width="2"/>
<text x="119.8" y="518.03" class="b" font-size="10.2" style="stroke:#000;stroke-width:0.2" textLength="96.0" lengthAdjust="spacingAndGlyphs">Tyrosine metabolism</text>
<rect x="227.40" y="526.61" width="105.20" height="6.5" fill="#a92f34" stroke="#5c3532" stroke-width="2"/>
<text x="50.6" y="532.94" class="b" font-size="10.2" style="stroke:#000;stroke-width:0.2" textLength="165.2" lengthAdjust="spacingAndGlyphs">Pantothenate and CoA biosynthesis</text>
<rect x="227.40" y="541.49" width="105.10" height="6.5" fill="#a92f34" stroke="#5c3532" stroke-width="2"/>
<text x="62.5" y="547.84" class="b" font-size="10.2" style="stroke:#000;stroke-width:0.2" textLength="153.3" lengthAdjust="spacingAndGlyphs">Glycerophospholipid metabolism</text>
<rect x="227.40" y="556.37" width="103.50" height="6.5" fill="#a92f34" stroke="#5c3532" stroke-width="2"/>
<text x="24.2" y="562.75" class="b" font-size="10.2" style="stroke:#000;stroke-width:0.2" textLength="191.6" lengthAdjust="spacingAndGlyphs">Glyoxylate and dicarboxylate metabolism</text>
<rect x="227.40" y="571.25" width="96.20" height="6.5" fill="#a92f34" stroke="#5c3532" stroke-width="2"/>
<text x="72.2" y="577.65" class="b" font-size="10.2" style="stroke:#000;stroke-width:0.2" textLength="143.6" lengthAdjust="spacingAndGlyphs">Inositol phosphate metabolism</text>
<rect x="227.40" y="586.13" width="94.60" height="6.5" fill="#a92f34" stroke="#5c3532" stroke-width="2"/>
<text x="43.1" y="592.56" class="b" font-size="10.2" style="stroke:#000;stroke-width:0.2" textLength="172.7" lengthAdjust="spacingAndGlyphs">Cysteine and methionine metabolism</text>
<rect x="227.40" y="601.01" width="94.60" height="6.5" fill="#a92f34" stroke="#5c3532" stroke-width="2"/>
<text x="84.0" y="607.46" class="b" font-size="10.2" style="stroke:#000;stroke-width:0.2" textLength="131.8" lengthAdjust="spacingAndGlyphs">Pentose phosphate pathway</text>
<rect x="227.40" y="615.89" width="80.80" height="6.5" fill="#a92f34" stroke="#5c3532" stroke-width="2"/>
<text x="8.6" y="622.37" class="b" font-size="10.2" style="stroke:#000;stroke-width:0.2" textLength="207.2" lengthAdjust="spacingAndGlyphs">Ubiquinone, terpenoid-quinone biosynthesis</text>
<rect x="227.40" y="630.77" width="80.80" height="6.5" fill="#a92f34" stroke="#5c3532" stroke-width="2"/>
<text x="92.9" y="637.27" class="b" font-size="10.2" style="stroke:#000;stroke-width:0.2" textLength="122.9" lengthAdjust="spacingAndGlyphs">Phenylalanine metabolism</text>
<rect x="227.40" y="645.65" width="80.20" height="6.5" fill="#a92f34" stroke="#5c3532" stroke-width="2"/>
<text x="104.5" y="652.17" class="b" font-size="10.2" style="stroke:#000;stroke-width:0.2" textLength="111.3" lengthAdjust="spacingAndGlyphs">Tryptophan metabolism</text>
<rect x="227.40" y="660.53" width="78.40" height="6.5" fill="#a92f34" stroke="#5c3532" stroke-width="2"/>
<text x="83.5" y="667.08" class="b" font-size="10.2" style="stroke:#000;stroke-width:0.2" textLength="132.3" lengthAdjust="spacingAndGlyphs">Phe, tyr and trp biosynthesis</text>
<rect x="227.40" y="675.41" width="77.80" height="6.5" fill="#a92f34" stroke="#5c3532" stroke-width="2"/>
<text x="116.3" y="681.99" class="b" font-size="10.2" style="stroke:#000;stroke-width:0.2" textLength="99.5" lengthAdjust="spacingAndGlyphs">Methane metabolism</text>
<rect x="227.40" y="690.29" width="75.80" height="6.5" fill="#a92f34" stroke="#5c3532" stroke-width="2"/>
<text x="43.1" y="696.89" class="b" font-size="10.2" style="stroke:#000;stroke-width:0.2" textLength="172.7" lengthAdjust="spacingAndGlyphs">Taurine and hypotaurine metabolism</text>
<rect x="227.40" y="705.17" width="74.20" height="6.5" fill="#a92f34" stroke="#5c3532" stroke-width="2"/>
<text x="107.7" y="711.80" class="b" font-size="10.2" style="stroke:#000;stroke-width:0.2" textLength="108.1" lengthAdjust="spacingAndGlyphs">Vitamin B6 metabolism</text>
<rect x="227.40" y="720.05" width="71.70" height="6.5" fill="#a92f34" stroke="#5c3532" stroke-width="2"/>
<text x="103.1" y="726.70" class="b" font-size="10.2" style="stroke:#000;stroke-width:0.2" textLength="112.7" lengthAdjust="spacingAndGlyphs">Glutathione metabolism</text>
<rect x="227.40" y="734.93" width="63.70" height="6.5" fill="#a92f34" stroke="#5c3532" stroke-width="2"/>
<text x="105.0" y="741.61" class="b" font-size="10.2" style="stroke:#000;stroke-width:0.2" textLength="110.8" lengthAdjust="spacingAndGlyphs">Citrate cycle (TCA cycle)</text>
<rect x="227.40" y="749.81" width="63.70" height="6.5" fill="#a92f34" stroke="#5c3532" stroke-width="2"/>
<text x="21.5" y="756.51" class="b" font-size="10.2" style="stroke:#000;stroke-width:0.2" textLength="194.3" lengthAdjust="spacingAndGlyphs">Glycine, serine and threonine metabolism</text>
<rect x="227.40" y="764.69" width="53.80" height="6.5" fill="#a92f34" stroke="#5c3532" stroke-width="2"/>
<text x="82.1" y="771.41" class="b" font-size="10.2" style="stroke:#000;stroke-width:0.2" textLength="133.7" lengthAdjust="spacingAndGlyphs">Arachidonic acid metabolism</text>
<rect x="227.40" y="779.57" width="31.60" height="6.5" fill="#a92f34" stroke="#5c3532" stroke-width="2"/>
<text x="131.1" y="786.32" class="b" font-size="10.2" style="stroke:#000;stroke-width:0.2" textLength="84.7" lengthAdjust="spacingAndGlyphs">Biotin metabolism</text>
<text x="226.80" y="815.4" class="b" font-size="14" text-anchor="middle">0</text>
<text x="248.18" y="815.4" class="b" font-size="14" text-anchor="middle">2</text>
<text x="269.56" y="815.4" class="b" font-size="14" text-anchor="middle">4</text>
<text x="290.94" y="815.4" class="b" font-size="14" text-anchor="middle">6</text>
<text x="312.32" y="815.4" class="b" font-size="14" text-anchor="middle">8</text>
<text x="333.70" y="815.4" class="b" font-size="14" text-anchor="middle">10</text>
<text x="355.08" y="815.4" class="b" font-size="14" text-anchor="middle">12</text>
<text x="376.46" y="815.4" class="b" font-size="14" text-anchor="middle">14</text>
<text x="273" y="842.4" class="b" font-size="19" textLength="54" lengthAdjust="spacingAndGlyphs">-log(p)</text>
<rect x="376.2" y="395.5" width="65.4" height="23.5" fill="#c84c4c"/>
<text x="400.2" y="411" class="b" font-size="10.5" style="fill:#fff4f0;stroke:#fff4f0;stroke-width:0.35" textLength="17.6" lengthAdjust="spacingAndGlyphs">FDR</text>
<rect x="377.4" y="418.9" width="63.0" height="371.6" fill="#ffffff" stroke="#b24a5e" stroke-width="2.4"/>
<line x1="377.2" y1="433.76" x2="440.6" y2="433.76" stroke="#94505a" stroke-width="1.5"/>
<line x1="377.2" y1="448.63" x2="440.6" y2="448.63" stroke="#94505a" stroke-width="1.5"/>
<line x1="377.2" y1="463.49" x2="440.6" y2="463.49" stroke="#94505a" stroke-width="1.5"/>
<line x1="377.2" y1="478.36" x2="440.6" y2="478.36" stroke="#94505a" stroke-width="1.5"/>
<line x1="377.2" y1="493.22" x2="440.6" y2="493.22" stroke="#94505a" stroke-width="1.5"/>
<line x1="377.2" y1="508.08" x2="440.6" y2="508.08" stroke="#94505a" stroke-width="1.5"/>
<line x1="377.2" y1="522.95" x2="440.6" y2="522.95" stroke="#94505a" stroke-width="1.5"/>
<line x1="377.2" y1="537.81" x2="440.6" y2="537.81" stroke="#94505a" stroke-width="1.5"/>
<line x1="377.2" y1="552.68" x2="440.6" y2="552.68" stroke="#94505a" stroke-width="1.5"/>
<line x1="377.2" y1="567.54" x2="440.6" y2="567.54" stroke="#94505a" stroke-width="1.5"/>
<line x1="377.2" y1="582.40" x2="440.6" y2="582.40" stroke="#94505a" stroke-width="1.5"/>
<line x1="377.2" y1="597.27" x2="440.6" y2="597.27" stroke="#94505a" stroke-width="1.5"/>
<line x1="377.2" y1="612.13" x2="440.6" y2="612.13" stroke="#94505a" stroke-width="1.5"/>
<line x1="377.2" y1="627.00" x2="440.6" y2="627.00" stroke="#94505a" stroke-width="1.5"/>
<line x1="377.2" y1="641.86" x2="440.6" y2="641.86" stroke="#94505a" stroke-width="1.5"/>
<line x1="377.2" y1="656.72" x2="440.6" y2="656.72" stroke="#94505a" stroke-width="1.5"/>
<line x1="377.2" y1="671.59" x2="440.6" y2="671.59" stroke="#94505a" stroke-width="1.5"/>
<line x1="377.2" y1="686.45" x2="440.6" y2="686.45" stroke="#94505a" stroke-width="1.5"/>
<line x1="377.2" y1="701.32" x2="440.6" y2="701.32" stroke="#94505a" stroke-width="1.5"/>
<line x1="377.2" y1="716.18" x2="440.6" y2="716.18" stroke="#94505a" stroke-width="1.5"/>
<line x1="377.2" y1="731.04" x2="440.6" y2="731.04" stroke="#94505a" stroke-width="1.5"/>
<line x1="377.2" y1="745.91" x2="440.6" y2="745.91" stroke="#94505a" stroke-width="1.5"/>
<line x1="377.2" y1="760.77" x2="440.6" y2="760.77" stroke="#94505a" stroke-width="1.5"/>
<line x1="377.2" y1="775.64" x2="440.6" y2="775.64" stroke="#94505a" stroke-width="1.5"/>
<text x="408.9" y="430.90" class="b" font-size="10.2" style="stroke:#000;stroke-width:0.25" text-anchor="middle">0.000114</text>
<text x="408.9" y="445.76" class="b" font-size="10.2" style="stroke:#000;stroke-width:0.25" text-anchor="middle">0.000114</text>
<text x="408.9" y="460.63" class="b" font-size="10.2" style="stroke:#000;stroke-width:0.25" text-anchor="middle">0.000114</text>
<text x="408.9" y="475.49" class="b" font-size="10.2" style="stroke:#000;stroke-width:0.25" text-anchor="middle">0.000114</text>
<text x="408.9" y="490.36" class="b" font-size="10.2" style="stroke:#000;stroke-width:0.25" text-anchor="middle">0.000114</text>
<text x="408.9" y="505.22" class="b" font-size="10.2" style="stroke:#000;stroke-width:0.25" text-anchor="middle">0.00015</text>
<text x="408.9" y="520.08" class="b" font-size="10.2" style="stroke:#000;stroke-width:0.25" text-anchor="middle">0.000345</text>
<text x="408.9" y="534.95" class="b" font-size="10.2" style="stroke:#000;stroke-width:0.25" text-anchor="middle">0.000345</text>
<text x="408.9" y="549.81" class="b" font-size="10.2" style="stroke:#000;stroke-width:0.25" text-anchor="middle">0.000345</text>
<text x="408.9" y="564.68" class="b" font-size="10.2" style="stroke:#000;stroke-width:0.25" text-anchor="middle">0.000353</text>
<text x="408.9" y="579.54" class="b" font-size="10.2" style="stroke:#000;stroke-width:0.25" text-anchor="middle">0.000648</text>
<text x="408.9" y="594.40" class="b" font-size="10.2" style="stroke:#000;stroke-width:0.25" text-anchor="middle">0.000648</text>
<text x="408.9" y="609.27" class="b" font-size="10.2" style="stroke:#000;stroke-width:0.25" text-anchor="middle">0.000648</text>
<text x="408.9" y="624.13" class="b" font-size="10.2" style="stroke:#000;stroke-width:0.25" text-anchor="middle">0.001433</text>
<text x="408.9" y="639.00" class="b" font-size="10.2" style="stroke:#000;stroke-width:0.25" text-anchor="middle">0.001433</text>
<text x="408.9" y="653.86" class="b" font-size="10.2" style="stroke:#000;stroke-width:0.25" text-anchor="middle">0.001433</text>
<text x="408.9" y="668.72" class="b" font-size="10.2" style="stroke:#000;stroke-width:0.25" text-anchor="middle">0.001568</text>
<text x="408.9" y="683.59" class="b" font-size="10.2" style="stroke:#000;stroke-width:0.25" text-anchor="middle">0.001568</text>
<text x="408.9" y="698.45" class="b" font-size="10.2" style="stroke:#000;stroke-width:0.25" text-anchor="middle">0.001885</text>
<text x="408.9" y="713.32" class="b" font-size="10.2" style="stroke:#000;stroke-width:0.25" text-anchor="middle">0.002016</text>
<text x="408.9" y="728.18" class="b" font-size="10.2" style="stroke:#000;stroke-width:0.25" text-anchor="middle">0.002471</text>
<text x="408.9" y="743.04" class="b" font-size="10.2" style="stroke:#000;stroke-width:0.25" text-anchor="middle">0.004303</text>
<text x="408.9" y="757.91" class="b" font-size="10.2" style="stroke:#000;stroke-width:0.25" text-anchor="middle">0.004303</text>
<text x="408.9" y="772.77" class="b" font-size="10.2" style="stroke:#000;stroke-width:0.25" text-anchor="middle">0.010114</text>
<text x="408.9" y="787.64" class="b" font-size="10.2" style="stroke:#000;stroke-width:0.25" text-anchor="middle">0.05949</text>
<path d="M446.6 423.2 H454.0 V771.6 H446.6" fill="none" stroke="#111" stroke-width="2.0"/>
<path d="M456.60 593.00 L462.40 593.00 M458.05 590.49 L460.95 595.51 M460.95 590.49 L458.05 595.51" stroke="#000" stroke-width="1.6" stroke-linecap="round" fill="none"/>
<path d="M456.60 601.90 L462.40 601.90 M458.05 599.39 L460.95 604.41 M460.95 599.39 L458.05 604.41" stroke="#000" stroke-width="1.6" stroke-linecap="round" fill="none"/>
<line x1="446.9" y1="785.3" x2="458.3" y2="785.3" stroke="#111" stroke-width="2.1"/>
<path d="M466.50 783.00 L466.50 789.00 M463.90 784.50 L469.10 787.50 M469.10 784.50 L463.90 787.50" stroke="#000" stroke-width="1.6" stroke-linecap="round" fill="none"/>
</svg>
</body></html>
